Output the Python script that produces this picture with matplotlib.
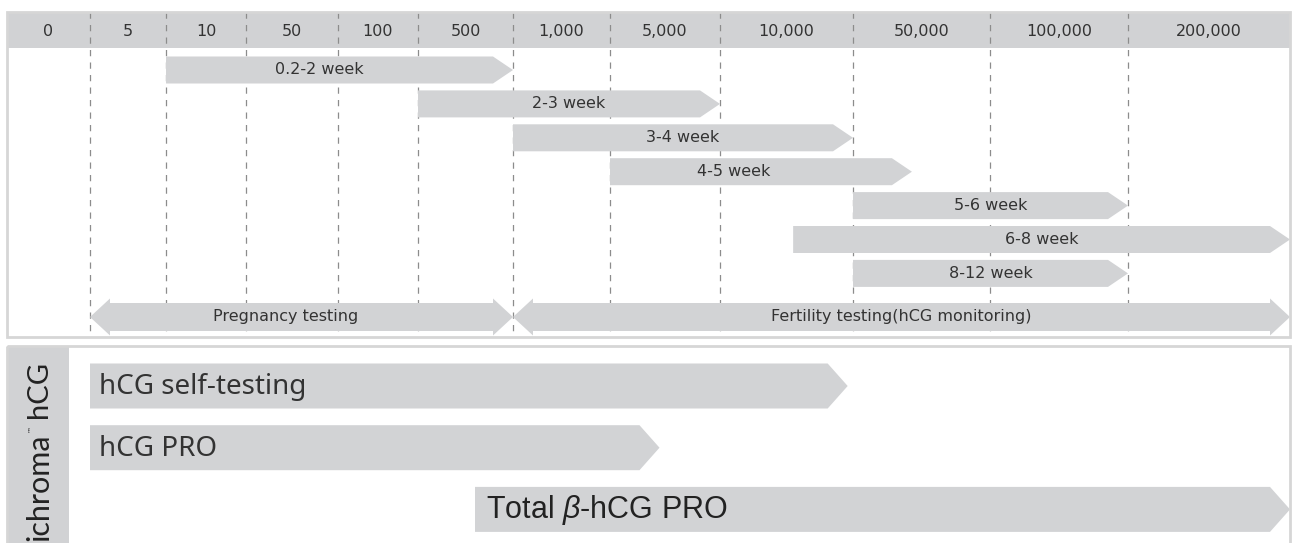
import numpy as np
import matplotlib
matplotlib.use("Agg")
import matplotlib.pyplot as plt
from matplotlib.patches import Polygon, Rectangle

plt.rcParams['font.family'] = ['DejaVu Sans']
plt.rcParams['mathtext.fontset'] = 'custom'
plt.rcParams['mathtext.it'] = 'Liberation Sans:italic'
plt.rcParams['mathtext.rm'] = 'Liberation Sans'

# ---- data (positions are in column-boundary units: 0 = left edge, 12 = right edge)
columns = ['0', '5', '10', '50', '100', '500', '1,000', '5,000',
           '10,000', '50,000', '100,000', '200,000']

week_labels = ['0.2-2 week', '2-3 week', '3-4 week', '4-5 week',
               '5-6 week', '6-8 week', '8-12 week']
week_start = [2, 5, 6, 7, 9, 8.55, 9]
week_end = [6, 8, 9, 9.43, 11, 12, 11]
week_text_at = [3.8, None, None, 8.1, None, None, None]

test_labels = ['Pregnancy testing', 'Fertility testing(hCG monitoring)']
test_start = [1, 6]
test_end = [6, 12]
test_text_at = [3.43, None]

product_labels = ['hCG self-testing', 'hCG PRO', r'Total $\beta$-hCG PRO']
product_start = [1, 1, 5.6]
product_end = [8.96, 7.45, 12]

brand_name = 'ichroma'
brand_tm = '\u2122'
brand_suffix = 'hCG'

# ---- layout (pixels)
col_edges = [7, 90, 166, 246, 338, 418, 513, 610, 720, 853, 990, 1128, 1290]
BAR = '#d2d3d5'
FRAME = '#d6d6d6'
TXT = '#333333'


def px(v):
    return np.interp(v, np.arange(len(col_edges)), col_edges)


def chevron(ax, x0, x1, yc, h, tip=20):
    pts = [(x0, yc - h / 2), (x1 - tip, yc - h / 2), (x1, yc),
           (x1 - tip, yc + h / 2), (x0, yc + h / 2)]
    ax.add_patch(Polygon(pts, closed=True, facecolor=BAR, edgecolor='none', zorder=3))


def double_arrow(ax, x0, x1, yc, h, hh, tip=20):
    pts = [(x0, yc), (x0 + tip, yc - hh / 2), (x0 + tip, yc - h / 2),
           (x1 - tip, yc - h / 2), (x1 - tip, yc - hh / 2), (x1, yc),
           (x1 - tip, yc + hh / 2), (x1 - tip, yc + h / 2),
           (x0 + tip, yc + h / 2), (x0 + tip, yc + hh / 2)]
    ax.add_patch(Polygon(pts, closed=True, facecolor=BAR, edgecolor='none', zorder=3))


fig = plt.figure(figsize=(12.93, 5.43), dpi=100)
ax = fig.add_axes([0, 0, 1, 1])
ax.set_xlim(0, 1293)
ax.set_ylim(543, 0)
ax.axis('off')

# header band + top frame
left, right = col_edges[0], col_edges[-1]
ax.add_patch(Rectangle((left, 12), right - left, 36, facecolor='#d1d2d4',
                       edgecolor='none', zorder=1))
ax.add_patch(Rectangle((left, 12), right - left, 325, facecolor='none',
                       edgecolor=FRAME, lw=2, zorder=4))
for i, lab in enumerate(columns):
    ax.text((px(i) + px(i + 1)) / 2, 31, lab, ha='center', va='center',
            fontsize=11.5, color=TXT, zorder=5)
for e in col_edges[1:-1]:
    ax.plot([e, e], [12, 337], color='#8c8c8c', lw=0.9,
            dashes=(5, 5), zorder=2)

# week bars
for i, lab in enumerate(week_labels):
    yc = 70 + i * 33.9
    x0, x1 = px(week_start[i]), px(week_end[i])
    chevron(ax, x0, x1, yc, 27)
    tx = (x0 + x1) / 2 if week_text_at[i] is None else px(week_text_at[i])
    ax.text(tx, yc, lab, ha='center', va='center', fontsize=11.5,
            color=TXT, zorder=5)

# testing ranges
for i, lab in enumerate(test_labels):
    x0, x1 = px(test_start[i]), px(test_end[i])
    double_arrow(ax, x0, x1, 317, 28, 37)
    tx = (x0 + x1) / 2 if test_text_at[i] is None else px(test_text_at[i])
    ax.text(tx, 317, lab, ha='center', va='center', fontsize=11.5,
            color=TXT, zorder=5)

# bottom panel
ax.add_patch(Rectangle((left, 346), right - left, 220, facecolor='none',
                       edgecolor=FRAME, lw=2, zorder=4))
ax.add_patch(Rectangle((left, 346), 62, 220, facecolor='#d1d2d4',
                       edgecolor='none', zorder=1))
brand = ax.text(39, 541, brand_name, rotation=90, ha='center', va='bottom',
                fontsize=22, color='#222222', family=['Lato', 'DejaVu Sans'], zorder=5)
fig.canvas.draw()
bb = brand.get_window_extent().transformed(ax.transData.inverted())
top_y = min(bb.y0, bb.y1)
ax.text(30, top_y - 1, brand_tm, rotation=90, ha='center', va='bottom',
        fontsize=5, color='#222222', zorder=5)
ax.text(39, top_y - 15, brand_suffix, rotation=90, ha='center', va='bottom',
        fontsize=21, color='#222222', family=['Lato', 'DejaVu Sans'], zorder=5)

for i, lab in enumerate(product_labels):
    yc = 386 + i * 61.7
    x0, x1 = px(product_start[i]), px(product_end[i])
    chevron(ax, x0, x1, yc, 45)
    if i == 2:
        ax.text(x0 + 11, yc + 1, lab, ha='left', va='center', fontsize=22,
                color='#222222', family=['Liberation Sans'], zorder=5)
    else:
        ax.text(x0 + 9, yc + 1, lab, ha='left', va='center', fontsize=20,
                color=TXT, family=['Noto Sans', 'DejaVu Sans'], zorder=5)

fig.savefig('out.png', dpi=100)
